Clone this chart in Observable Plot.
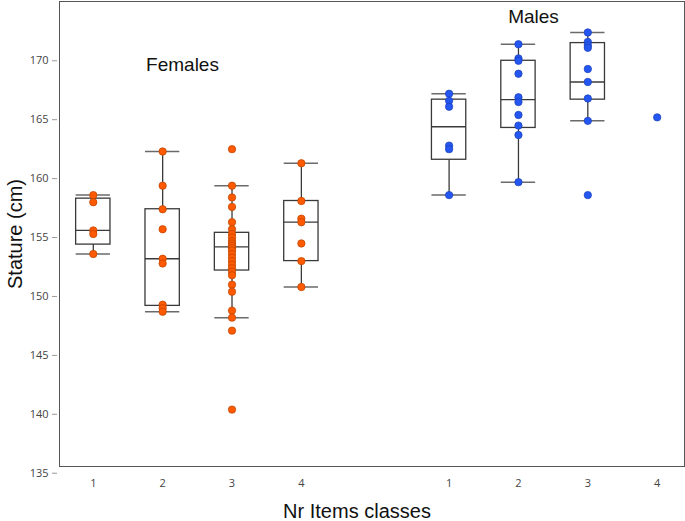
<!DOCTYPE html>
<html>
<head>
<meta charset="utf-8">
<script src="https://cdn.jsdelivr.net/npm/d3@7"></script>
<script src="https://cdn.jsdelivr.net/npm/@observablehq/plot@0.6"></script>
<style>
  html, body { margin: 0; padding: 0; background: #fff; }
  #chart svg { display: block; }
</style>
</head>
<body>
<div id="chart"></div>
<script>
// ---- Data ----
const sexes = ["Females", "Males"];
const classes = ["1", "2", "3", "4"];
const yTicks = [135, 140, 145, 150, 155, 160, 165, 170];

// Individual statures (cm), per sex and Nr Items class
const females1 = [158.6, 158.0, 155.6, 155.3, 153.6];
const females2 = [162.3, 159.4, 157.4, 155.7, 153.2, 152.8, 149.3, 149.0, 148.7];
const females3 = [162.5, 159.4, 158.4, 157.6, 156.3, 155.7, 155.3, 155.0, 154.7, 154.5, 154.3, 154.1, 153.9,
                  153.6, 153.3, 153.0, 152.7, 152.4, 152.1, 151.8, 151.0, 150.4, 148.8, 148.2, 147.1, 140.4];
const females4 = [161.3, 158.1, 156.6, 156.3, 154.5, 153.0, 150.8];
const males1 = [167.2, 166.6, 166.1, 162.8, 162.5, 158.6];
const males2 = [171.4, 170.2, 170.0, 168.9, 166.9, 166.5, 165.4, 164.5, 163.7, 159.7];
const males3 = [172.4, 171.6, 171.3, 171.1, 169.3, 168.2, 166.8, 164.9, 158.6];
const males4 = [165.2];

// Box-plot statistics as drawn (F1..F4, M1..M4); M4 has no box
const boxQ1      = [154.4, 149.2, 152.2, 153.0, 161.6, 164.3, 166.7, null];
const boxMedian  = [155.6, 153.2, 154.2, 156.3, 164.4, 166.7, 168.2, null];
const boxQ3      = [158.3, 157.4, 155.4, 158.1, 166.7, 170.0, 171.5, null];
const whiskerLow = [153.6, 148.7, 148.2, 150.8, 158.6, 159.7, 164.9, null];
const whiskerHigh= [158.6, 162.3, 159.4, 161.3, 167.2, 171.4, 172.4, null];

// ---- Build tables ----
const groups = [females1, females2, females3, females4, males1, males2, males3, males4];
const maleOffset = 5.13;  // horizontal gap between the two sex blocks (in class units)
const halfW = 0.2475;
const xOf = i => (i % 4) + 1 + (i >= 4 ? maleOffset : 0);

const points = [];
groups.forEach((vals, i) => vals.forEach(v => points.push({
  sex: sexes[Math.floor(i / 4)], cls: classes[i % 4], x: xOf(i), value: v
})));

const boxes = groups.map((_, i) => ({
  x: xOf(i), q1: boxQ1[i], med: boxMedian[i], q3: boxQ3[i], lo: whiskerLow[i], hi: whiskerHigh[i]
})).filter(d => d.q1 != null);

const xTickPos = groups.map((_, i) => xOf(i));
const fmtX = d => classes[Math.round(d - (d > 5 ? maleOffset : 0)) - 1];

const boxStroke = "#3a3a3a";
const capStroke = "#6a6a6a";
const titleFont = "'Liberation Sans', Arial, sans-serif";

const chart = Plot.plot({
  width: 685,
  height: 521,
  marginLeft: 59,
  marginRight: 1,
  marginTop: 1,
  marginBottom: 55,
  x: { type: "linear", domain: [0.5127, 9.524] },
  y: { domain: [135.57, 175.03] },
  color: { domain: sexes, range: ["#FF5A00", "#2457F2"] },
  style: { fontFamily: "'Open Sans', sans-serif", background: "#fff", overflow: "visible" },
  marks: [
    Plot.axisY({ ticks: yTicks, tickSize: 5, tickPadding: 4, dx: -2, stroke: "#9a9a9a", fill: "#444", fontSize: 11, label: null }),
    Plot.axisX({ ticks: xTickPos, tickFormat: fmtX, tickSize: 0, tickPadding: 13, fill: "#444", fontSize: 11, label: null }),
    // whiskers
    Plot.ruleX(boxes, { x: "x", y1: "lo", y2: "q1", stroke: boxStroke, strokeWidth: 1.3 }),
    Plot.ruleX(boxes, { x: "x", y1: "q3", y2: "hi", stroke: boxStroke, strokeWidth: 1.3 }),
    // caps
    Plot.ruleY(boxes, { y: "lo", x1: d => d.x - halfW, x2: d => d.x + halfW, stroke: capStroke, strokeWidth: 1.5 }),
    Plot.ruleY(boxes, { y: "hi", x1: d => d.x - halfW, x2: d => d.x + halfW, stroke: capStroke, strokeWidth: 1.5 }),
    // boxes
    Plot.rect(boxes, { x1: d => d.x - halfW, x2: d => d.x + halfW, y1: "q1", y2: "q3", fill: "#fff", stroke: boxStroke, strokeWidth: 1.3 }),
    Plot.ruleY(boxes, { y: "med", x1: d => d.x - halfW, x2: d => d.x + halfW, stroke: boxStroke, strokeWidth: 1.3 }),
    // points
    Plot.dot(points, { x: "x", y: "value", r: 3.7, fill: "sex",
      stroke: d => d.sex === "Females" ? "#B84200" : "#1B3DB5", strokeWidth: 0.7 }),
    // group labels
    Plot.text(["Females"], { x: 2.286, y: 169.69, text: d => d, fontSize: 19, fontFamily: titleFont, fill: "#111" }),
    Plot.text(["Males"], { x: 7.347, y: 173.76, text: d => d, fontSize: 19, fontFamily: titleFont, fill: "#111" }),
    // axis titles
    Plot.text(["Stature (cm)"], { frameAnchor: "left", textAnchor: "middle", lineAnchor: "middle", dx: -44, rotate: -90, text: d => d, fontSize: 20, fontFamily: titleFont, fill: "#111" }),
    Plot.text(["Nr Items classes"], { frameAnchor: "bottom", textAnchor: "middle", lineAnchor: "bottom", dx: -15, dy: 51, text: d => d, fontSize: 20, fontFamily: titleFont, fill: "#111" }),
    Plot.frame({ stroke: "#555", strokeWidth: 1 })
  ]
});
document.getElementById("chart").appendChild(chart);
</script>
</body>
</html>
